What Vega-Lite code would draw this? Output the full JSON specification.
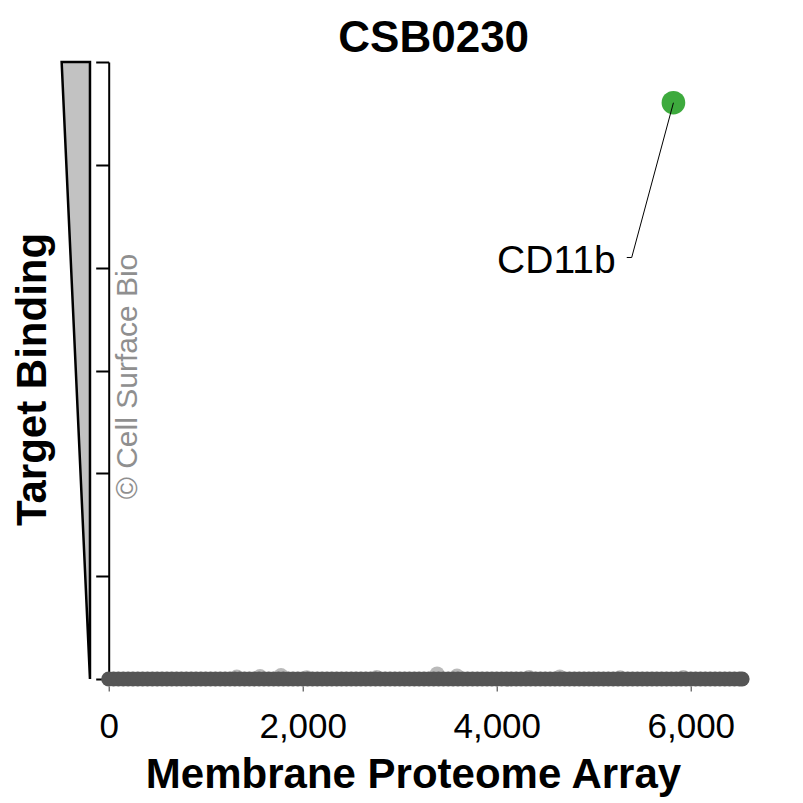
{
  "$schema": "https://vega.github.io/schema/vega-lite/v6.json",
  "autosize": {"type": "none"},
  "padding": {"left": 108.7, "top": 62, "right": 44.3, "bottom": 124},
  "width": 650,
  "height": 617,
  "background": "white",
  "config": {"font": "Liberation Sans", "view": {"stroke": null}},
  "title": {"text": "CSB0230", "fontSize": 44, "fontWeight": "bold", "color": "black", "anchor": "middle", "offset": -4, "font": "Liberation Sans"},
  "datasets": {
    "wedge": [{"x": -485, "x2": -193, "y": 6}, {"x": -193, "x2": -193, "y": 0}],
    "halo": [
      {"x": 1320, "y": 0.02}, {"x": 1560, "y": 0.025}, {"x": 1776, "y": 0.035}, {"x": 2041, "y": 0.012},
      {"x": 2763, "y": 0.015}, {"x": 3385, "y": 0.05}, {"x": 3590, "y": 0.03}, {"x": 4333, "y": 0.015},
      {"x": 4650, "y": 0.02}, {"x": 5271, "y": 0.012}, {"x": 5923, "y": 0.015}
    ],
    "bg": [
      {"x": 0, "y": 0}, {"x": 50, "y": 0}, {"x": 100, "y": 0}, {"x": 150, "y": 0}, {"x": 200, "y": 0}, {"x": 250, "y": 0}, {"x": 300, "y": 0}, {"x": 350, "y": 0}, {"x": 400, "y": 0}, {"x": 450, "y": 0},
      {"x": 500, "y": 0}, {"x": 550, "y": 0}, {"x": 600, "y": 0}, {"x": 650, "y": 0}, {"x": 700, "y": 0}, {"x": 750, "y": 0}, {"x": 800, "y": 0}, {"x": 850, "y": 0}, {"x": 900, "y": 0}, {"x": 950, "y": 0},
      {"x": 1000, "y": 0}, {"x": 1050, "y": 0}, {"x": 1100, "y": 0}, {"x": 1150, "y": 0}, {"x": 1200, "y": 0}, {"x": 1250, "y": 0}, {"x": 1300, "y": 0}, {"x": 1350, "y": 0}, {"x": 1400, "y": 0}, {"x": 1450, "y": 0},
      {"x": 1500, "y": 0}, {"x": 1550, "y": 0}, {"x": 1600, "y": 0}, {"x": 1650, "y": 0}, {"x": 1700, "y": 0}, {"x": 1750, "y": 0}, {"x": 1800, "y": 0}, {"x": 1850, "y": 0}, {"x": 1900, "y": 0}, {"x": 1950, "y": 0},
      {"x": 2000, "y": 0}, {"x": 2050, "y": 0}, {"x": 2100, "y": 0}, {"x": 2150, "y": 0}, {"x": 2200, "y": 0}, {"x": 2250, "y": 0}, {"x": 2300, "y": 0}, {"x": 2350, "y": 0}, {"x": 2400, "y": 0}, {"x": 2450, "y": 0},
      {"x": 2500, "y": 0}, {"x": 2550, "y": 0}, {"x": 2600, "y": 0}, {"x": 2650, "y": 0}, {"x": 2700, "y": 0}, {"x": 2750, "y": 0}, {"x": 2800, "y": 0}, {"x": 2850, "y": 0}, {"x": 2900, "y": 0}, {"x": 2950, "y": 0},
      {"x": 3000, "y": 0}, {"x": 3050, "y": 0}, {"x": 3100, "y": 0}, {"x": 3150, "y": 0}, {"x": 3200, "y": 0}, {"x": 3250, "y": 0}, {"x": 3300, "y": 0}, {"x": 3350, "y": 0}, {"x": 3400, "y": 0}, {"x": 3450, "y": 0},
      {"x": 3500, "y": 0}, {"x": 3550, "y": 0}, {"x": 3600, "y": 0}, {"x": 3650, "y": 0}, {"x": 3700, "y": 0}, {"x": 3750, "y": 0}, {"x": 3800, "y": 0}, {"x": 3850, "y": 0}, {"x": 3900, "y": 0}, {"x": 3950, "y": 0},
      {"x": 4000, "y": 0}, {"x": 4050, "y": 0}, {"x": 4100, "y": 0}, {"x": 4150, "y": 0}, {"x": 4200, "y": 0}, {"x": 4250, "y": 0}, {"x": 4300, "y": 0}, {"x": 4350, "y": 0}, {"x": 4400, "y": 0}, {"x": 4450, "y": 0},
      {"x": 4500, "y": 0}, {"x": 4550, "y": 0}, {"x": 4600, "y": 0}, {"x": 4650, "y": 0}, {"x": 4700, "y": 0}, {"x": 4750, "y": 0}, {"x": 4800, "y": 0}, {"x": 4850, "y": 0}, {"x": 4900, "y": 0}, {"x": 4950, "y": 0},
      {"x": 5000, "y": 0}, {"x": 5050, "y": 0}, {"x": 5100, "y": 0}, {"x": 5150, "y": 0}, {"x": 5200, "y": 0}, {"x": 5250, "y": 0}, {"x": 5300, "y": 0}, {"x": 5350, "y": 0}, {"x": 5400, "y": 0}, {"x": 5450, "y": 0},
      {"x": 5500, "y": 0}, {"x": 5550, "y": 0}, {"x": 5600, "y": 0}, {"x": 5650, "y": 0}, {"x": 5700, "y": 0}, {"x": 5750, "y": 0}, {"x": 5800, "y": 0}, {"x": 5850, "y": 0}, {"x": 5900, "y": 0}, {"x": 5950, "y": 0},
      {"x": 6000, "y": 0}, {"x": 6050, "y": 0}, {"x": 6100, "y": 0}, {"x": 6150, "y": 0}, {"x": 6200, "y": 0}, {"x": 6250, "y": 0}, {"x": 6300, "y": 0}, {"x": 6350, "y": 0}, {"x": 6400, "y": 0}, {"x": 6450, "y": 0},
      {"x": 6500, "y": 0}, {"x": 6529, "y": 0}
    ],
    "watermark": [{"x": 288.6, "y": 2.942, "text": "© Cell Surface Bio"}],
    "hit": [{"x": 5821, "y": 5.604, "label": "CD11b"}],
    "leader": [{"x": 5340, "y": 4.099}, {"x": 5391, "y": 4.099}, {"x": 5821, "y": 5.604}],
    "lab": [{"x": 5225, "y": 3.945, "label": "CD11b"}]
  },
  "encoding": {
    "x": {
      "field": "x", "type": "quantitative",
      "scale": {"domain": [0, 6700], "nice": false, "zero": false},
      "axis": {
        "values": [0, 2000, 4000, 6000], "format": ",d",
        "labelFontSize": 35, "labelColor": "black", "labelFont": "Liberation Sans", "labelFlush": false,
        "domain": false, "grid": false, "ticks": true, "tickSize": 5, "tickColor": "#333333", "tickWidth": 1,
        "offset": 7, "labelPadding": 18,
        "title": "Membrane Proteome Array", "titleFontSize": 42, "titleFontWeight": "bold", "titleColor": "black", "titleFont": "Liberation Sans", "titlePadding": 10,
        "titleX": 304.3, "titleAnchor": null, "titleAlign": "center"
      }
    },
    "y": {
      "field": "y", "type": "quantitative",
      "scale": {"domain": [0, 6], "nice": false, "zero": false},
      "axis": {
        "values": [0, 1, 2, 3, 4, 5, 6], "labels": false,
        "domain": true, "domainColor": "black", "domainWidth": 2,
        "ticks": true, "tickColor": "black", "tickWidth": 2, "tickSize": 13, "grid": false,
        "title": "Target Binding", "titleFontSize": 42, "titleFontWeight": "bold", "titleColor": "black", "titleFont": "Liberation Sans", "titlePadding": 40,
        "titleY": 317, "titleAlign": "center"
      }
    }
  },
  "layer": [
    {
      "data": {"name": "wedge"},
      "mark": {"type": "area", "orient": "horizontal", "fill": "#c2c2c2", "stroke": "black", "strokeWidth": 2.5, "strokeJoin": "miter", "clip": false},
      "encoding": {"x2": {"field": "x2"}, "x": {"field": "x", "type": "quantitative", "stack": null}}
    },
    {
      "data": {"name": "halo"},
      "mark": {"type": "circle", "size": 220, "color": "#a9a9a9", "opacity": 0.8, "clip": false}
    },
    {
      "data": {"name": "bg"},
      "mark": {"type": "circle", "size": 225, "color": "#555555", "opacity": 1, "clip": false}
    },
    {
      "data": {"name": "watermark"},
      "mark": {"type": "text", "angle": 270, "align": "center", "baseline": "alphabetic", "fontSize": 30, "color": "#8f8f8f", "font": "Liberation Sans"},
      "encoding": {"text": {"field": "text"}}
    },
    {
      "data": {"name": "hit"},
      "mark": {"type": "circle", "size": 560, "color": "#3daa3d", "opacity": 1, "clip": false}
    },
    {
      "data": {"name": "leader"},
      "mark": {"type": "line", "color": "black", "strokeWidth": 1},
      "encoding": {}
    },
    {
      "data": {"name": "lab"},
      "mark": {"type": "text", "align": "right", "baseline": "alphabetic", "fontSize": 39, "color": "black", "font": "Liberation Sans"},
      "encoding": {"text": {"field": "label"}}
    }
  ]
}
